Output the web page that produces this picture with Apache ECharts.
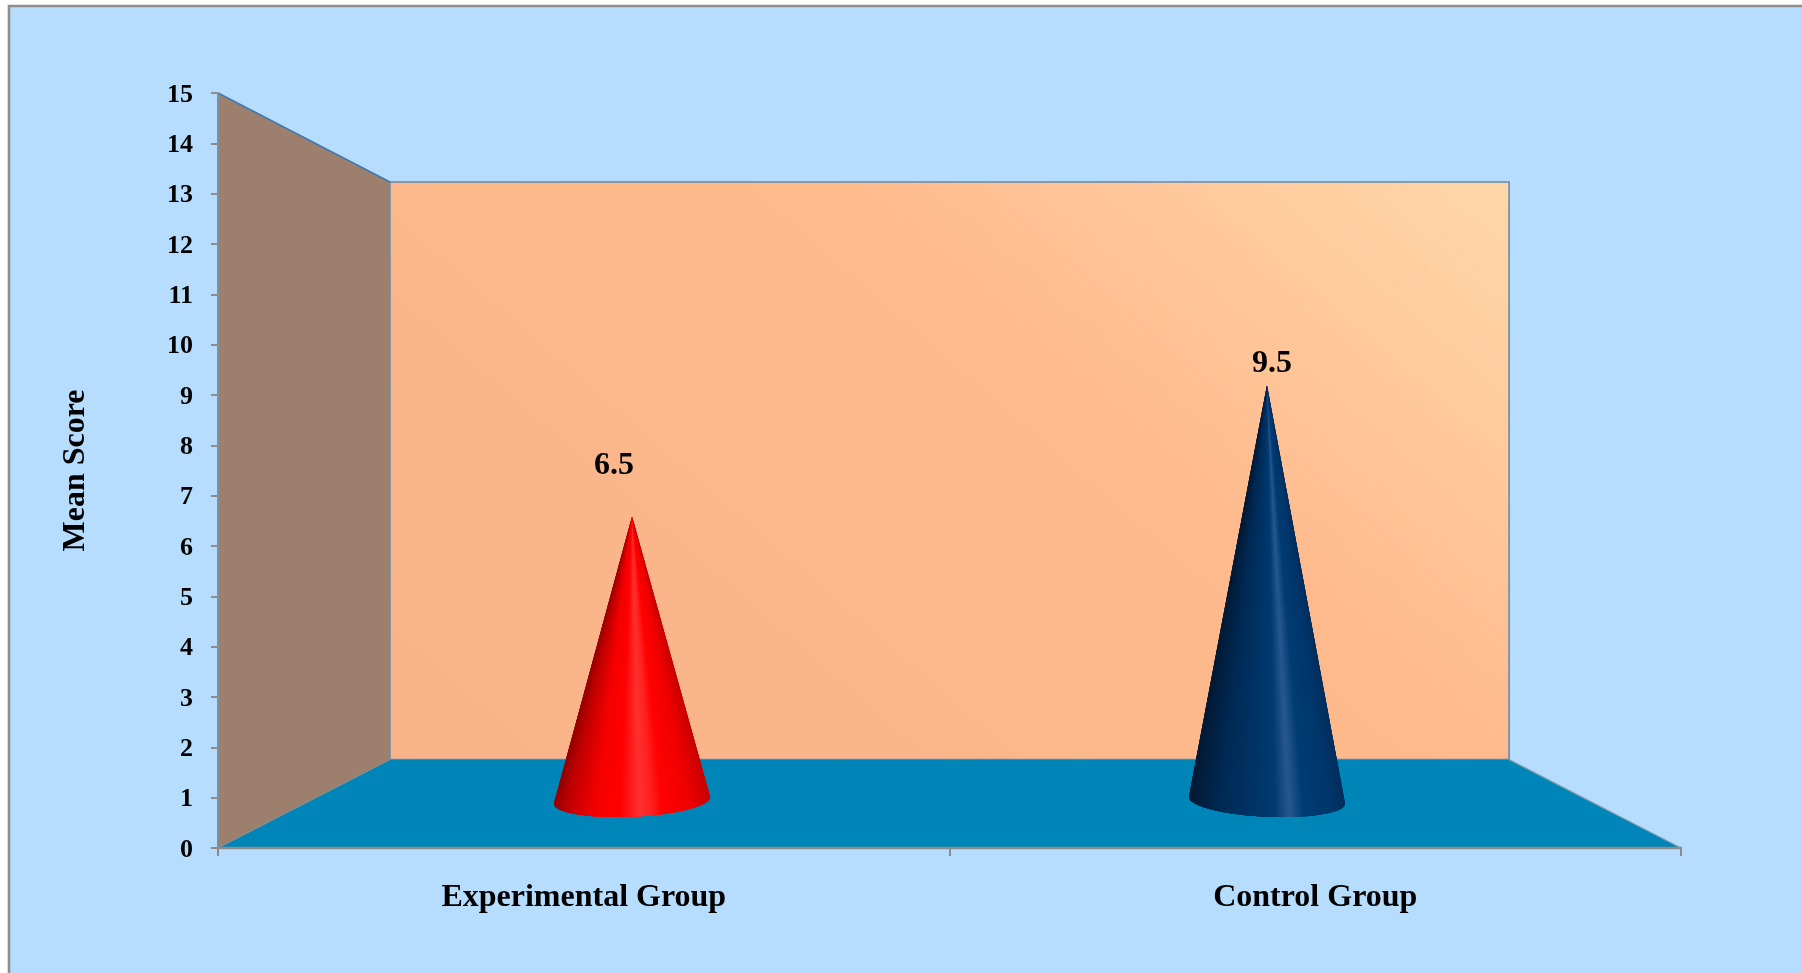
<!DOCTYPE html>
<html>
<head>
<meta charset="utf-8">
<title>Mean Score</title>
<style>
  html, body { margin: 0; padding: 0; background: #fff; }
  #chart { width: 1802px; height: 973px; }
</style>
<script src="https://cdn.jsdelivr.net/npm/echarts@6/dist/echarts.min.js"></script>
</head>
<body>
<div id="chart"></div>
<script>
// Chart values
const categories = ['Experimental Group', 'Control Group'];
const meanScores = [6.5, 9.5];
const scoreMin = 0;
const scoreMax = 15;
const scoreStep = 1;

// Perspective of the box: the front plane is the grid, the back wall is the
// same plane shrunk towards the vanishing point.
const VANISH_Y = 472;
const BACK_SCALE = 0.765;
const CONE_SCALE = 0.868;
const CONE_DROP = 2;

const SERIF = '"Liberation Serif", "Times New Roman", serif';

// Horizontal shading around each cone: [position, colour]
const coneRamps = [
  [[0, '#940000'], [0.07, '#bc0000'], [0.26, '#f40000'], [0.42, '#ff0000'],
   [0.55, '#ff3030'], [0.62, '#ff2222'], [0.7, '#ff0202'], [0.87, '#f00000'], [1, '#c80000']],
  [[0, '#041a34'], [0.2, '#002a55'], [0.4, '#003364'], [0.55, '#003b70'],
   [0.645, '#27588f'], [0.74, '#003c72'], [0.9, '#00376b'], [1, '#002f5e']]
];
// Value labels sit a little off the cone tips
const labelOffsets = [[-18, -51], [5, -22]];

function hexToRgb(h) {
  return [1, 3, 5].map(function (i) { return parseInt(h.substr(i, 2), 16); });
}
function sampleRamp(ramp, u) {
  for (let i = 1; i < ramp.length; i++) {
    if (u <= ramp[i][0]) {
      const a = ramp[i - 1], b = ramp[i];
      const f = (u - a[0]) / (b[0] - a[0]);
      const ca = hexToRgb(a[1]), cb = hexToRgb(b[1]);
      return 'rgb(' + ca.map(function (v, k) {
        return Math.round(v + (cb[k] - v) * f);
      }).join(',') + ')';
    }
  }
  return ramp[ramp.length - 1][1];
}

function project(p, vx, scale) {
  return [vx + (p[0] - vx) * scale, VANISH_Y + (p[1] - VANISH_Y) * scale];
}

// Back wall, side wall and floor, spanned over the cartesian grid
function renderRoom(params) {
  const r = params.coordSys;
  const vx = r.x + r.width / 2;
  const fl = r.x, fr = r.x + r.width, ft = r.y, fb = r.y + r.height;
  const tl = project([fl, ft], vx, BACK_SCALE);
  const tr = project([fr, ft], vx, BACK_SCALE);
  const bl = project([fl, fb], vx, BACK_SCALE);
  const br = project([fr, fb], vx, BACK_SCALE);
  return {
    type: 'group',
    children: [
      { type: 'polygon', shape: { points: [[fl, ft], tl, bl, [fl, fb]] },
        style: { fill: '#9c806d', stroke: null } },
      { type: 'polygon', shape: { points: [tl, tr, br, bl] },
        style: {
          fill: new echarts.graphic.LinearGradient(0, 1, 0.684, -0.53, [
            { offset: 0, color: '#f8b288' },
            { offset: 0.4, color: '#fbb88b' },
            { offset: 0.62, color: '#feba8d' },
            { offset: 0.8, color: '#ffc89c' },
            { offset: 1, color: '#ffd7a9' }
          ]),
          stroke: '#5f8bb0', lineWidth: 1.6
        } },
      { type: 'polygon', shape: { points: [bl, br, [fr, fb], [fl, fb]] },
        style: { fill: '#0085b9', stroke: null } },
      { type: 'line', shape: { x1: fl, y1: ft, x2: tl[0], y2: tl[1] },
        style: { stroke: '#4379ad', lineWidth: 1.8 } },
      { type: 'line', shape: { x1: bl[0], y1: bl[1], x2: fl, y2: fb },
        style: { stroke: '#8b8f8c', lineWidth: 1 } },
      { type: 'line', shape: { x1: br[0], y1: br[1], x2: fr, y2: fb },
        style: { stroke: '#7f9aa8', lineWidth: 1.2 } }
    ]
  };
}

// One cone: overlapping slices from the tip to the front arc of its base,
// painted left to right so no seams show between them
function renderCone(params, api) {
  const r = params.coordSys;
  const vx = r.x + r.width / 2;
  const idx = api.value(0);
  const score = api.value(1);
  const tip = project(api.coord([idx, score]), vx, CONE_SCALE);
  const base = project(api.coord([idx, 0]), vx, CONE_SCALE);
  tip[1] += CONE_DROP;
  base[1] += CONE_DROP;
  const band = api.size([1, 0])[0];
  const rx = band * CONE_SCALE * 0.123;
  const ry = rx * 0.21;
  const theta = Math.atan(0.045 * (base[0] - vx) / 318);
  const cosT = Math.cos(theta), sinT = Math.sin(theta);
  const point = function (t) {
    const a = rx * Math.cos(t), b = ry * Math.sin(t);
    return [base[0] + a * cosT - b * sinT, base[1] + a * sinT + b * cosT];
  };
  const ramp = coneRamps[idx];
  const over = 0.07;
  const steps = 120;
  const tEnd = Math.PI + over;
  const tSpan = Math.PI + 2 * over;
  const children = [];
  // First lay the whole silhouette down in one colour, then shade it
  const outline = [tip];
  for (let i = 0; i <= steps; i++) {
    outline.push(point(tEnd - tSpan * i / steps));
  }
  children.push({
    type: 'polygon',
    shape: { points: outline },
    style: { fill: sampleRamp(ramp, 0.5) }
  });
  for (let i = 0; i < steps; i++) {
    const t0 = tEnd - tSpan * i / steps;
    const tLast = Math.max(-over, t0 - tSpan * 3 / steps);
    const p0 = point(t0);
    const arc = [tip, p0];
    const mid = point(t0 - tSpan / steps);
    arc.push(mid);
    arc.push(point(tLast));
    const u = Math.min(1, Math.max(0, ((p0[0] + mid[0]) / 2 - (base[0] - rx)) / (2 * rx)));
    children.push({
      type: 'polygon',
      shape: { points: arc },
      style: { fill: sampleRamp(ramp, u) }
    });
  }
  const off = labelOffsets[idx];
  children.push({
    type: 'text',
    style: {
      text: score.toFixed(1),
      x: tip[0] + off[0],
      y: tip[1] + off[1],
      align: 'center',
      verticalAlign: 'middle',
      fill: '#000',
      font: 'bold 32px ' + SERIF
    }
  });
  return { type: 'group', children: children };
}

const chart = echarts.init(document.getElementById('chart'), null, { renderer: 'canvas' });
chart.setOption({
  animation: false,
  backgroundColor: '#ffffff',
  tooltip: { show: false },
  graphic: [{
    type: 'rect',
    z: -10,
    shape: { x: 9, y: 6, width: 1830, height: 1000 },
    style: { fill: '#b7ddfe', stroke: '#8e8e8e', lineWidth: 2.6 }
  }],
  grid: { left: 218, top: 93, width: 1463, height: 755, containLabel: false },
  xAxis: {
    type: 'category',
    data: categories,
    z: 5,
    axisLine: { lineStyle: { color: '#8c8c8c', width: 2.4 } },
    axisTick: { show: true, length: 8, lineStyle: { color: '#8c8c8c', width: 2 } },
    axisLabel: {
      margin: 34, color: '#000', fontFamily: SERIF, fontWeight: 'bold', fontSize: 32
    },
    splitLine: { show: false }
  },
  yAxis: {
    type: 'value',
    min: scoreMin,
    max: scoreMax,
    interval: scoreStep,
    z: 5,
    name: 'Mean Score',
    nameLocation: 'middle',
    nameGap: 126,
    nameTextStyle: { color: '#000', fontFamily: SERIF, fontWeight: 'bold', fontSize: 32 },
    axisLine: { show: true, lineStyle: { color: '#7f8d9c', width: 2 } },
    axisTick: { show: true, length: 7, lineStyle: { color: '#8c8c8c', width: 2 } },
    axisLabel: {
      margin: 25, color: '#000', fontFamily: SERIF, fontWeight: 'bold', fontSize: 26,
      verticalAlign: 'top',
      padding: [-11, 0, 0, 0]
    },
    splitLine: { show: false }
  },
  series: [
    {
      type: 'custom',
      name: 'Box',
      coordinateSystem: 'cartesian2d',
      clip: false,
      silent: true,
      z: 1,
      encode: { x: 0, y: 1 },
      data: [[0, scoreMin]],
      renderItem: renderRoom
    },
    {
      type: 'custom',
      name: 'Mean Score',
      coordinateSystem: 'cartesian2d',
      clip: false,
      silent: true,
      z: 3,
      encode: { x: 0, y: 1 },
      data: meanScores.map(function (v, i) { return [i, v]; }),
      renderItem: renderCone
    }
  ]
});
</script>
</body>
</html>
